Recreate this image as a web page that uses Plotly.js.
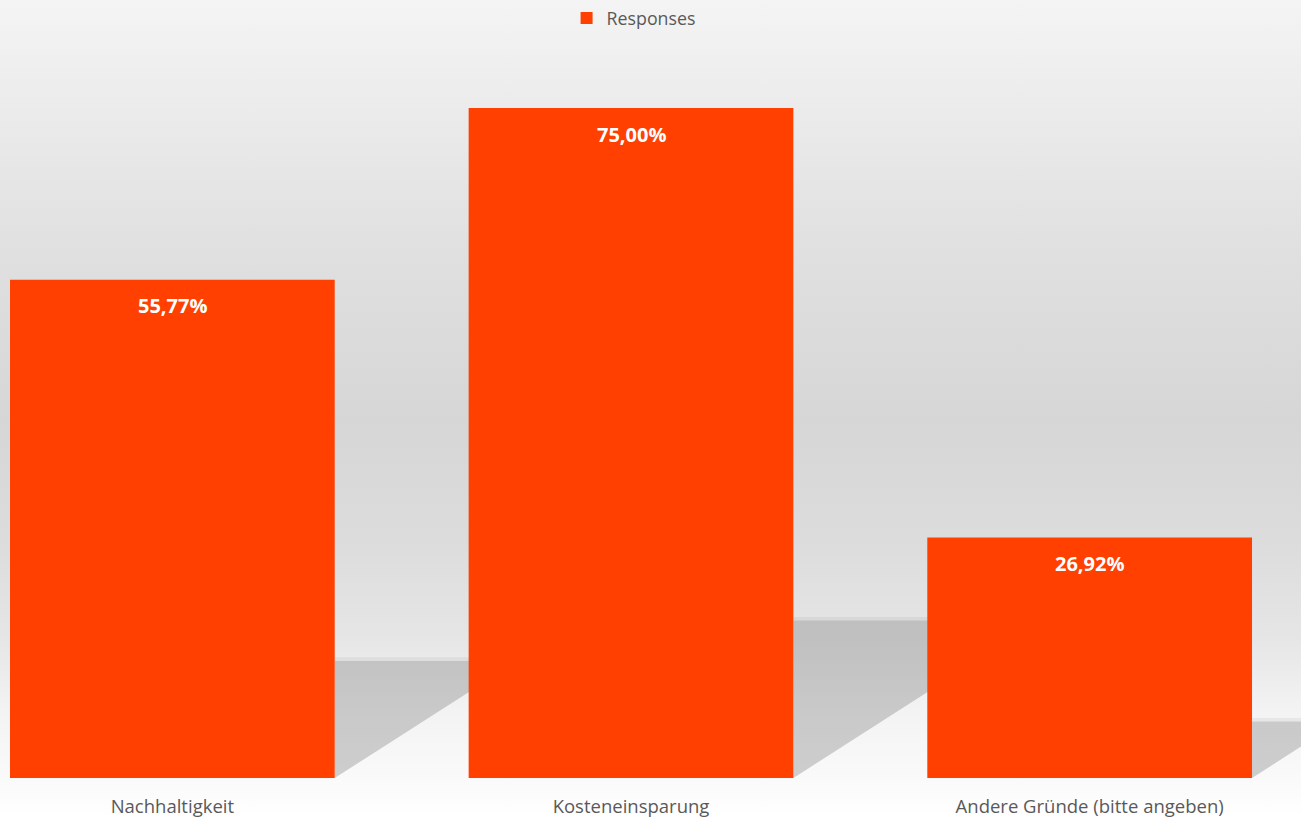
<!DOCTYPE html>
<html>
<head>
<meta charset="utf-8">
<script src="https://cdn.plot.ly/plotly-3.0.1.min.js"></script>
<style>
  html, body { margin: 0; padding: 0; }
  #chart {
    width: 1301px; height: 817px;
    background: linear-gradient(to bottom,
      #f4f4f4 0px, #ececec 100px, #e0e0e0 250px, #d6d6d6 420px,
      #dcdcdc 540px, #e6e6e6 640px, #f3f3f3 710px, #fafafa 780px, #ffffff 817px);
  }
</style>
</head>
<body>
<div id="chart"></div>
<script>
const categories = ["Nachhaltigkeit", "Kosteneinsparung", "Andere Gründe (bitte angeben)"];
const responses = [55.77, 75.00, 26.92];
const seriesName = "Responses";

const barColor = "#ff4000";
const barWidth = 0.708;
const labels = responses.map(v => v.toFixed(2).replace(".", ",") + "%");

// Floor shadows (decorative), derived from the values
const shadowRatio = 0.235;
const shadowSlope = 32.9; // data units of y per unit of x
const shapes = [];
responses.forEach((v, i) => {
  const xr = i + barWidth / 2;
  const top = v * shadowRatio;
  const xe = xr + top / shadowSlope;
  shapes.push({
    type: "path", xref: "x", yref: "y", layer: "below",
    path: `M ${xr},0 L ${xr},${top} L ${xe},${top} Z`,
    fillcolor: "rgba(120,120,120,0.34)", line: { width: 0 }
  });
  shapes.push({
    type: "path", xref: "x", yref: "y", layer: "below",
    path: `M ${xr},${top} L ${xr},${top + 0.4} L ${xe + 0.4/shadowSlope},${top + 0.4} L ${xe},${top} Z`,
    fillcolor: "rgba(120,120,120,0.10)", line: { width: 0 }
  });
});

const annotations = responses.map((v, i) => ({
  x: categories[i], y: v, xref: "x", yref: "y",
  text: "<b>" + labels[i] + "</b>", showarrow: false,
  yanchor: "middle", yshift: -26,
  font: { family: "Open Sans, sans-serif", size: 20, color: "#ffffff" }
}));

const trace = {
  type: "bar",
  x: categories,
  y: responses,
  name: seriesName,
  width: barWidth,
  marker: { color: barColor, line: { width: 0 } },
  hoverinfo: "x+y",
  showlegend: true
};

const layout = {
  width: 1301, height: 817,
  margin: { l: 0, r: 0, t: 0, b: 39, pad: 0 },
  paper_bgcolor: "rgba(0,0,0,0)",
  plot_bgcolor: "rgba(0,0,0,0)",
  font: { family: "Open Sans, sans-serif", color: "#595959" },
  showlegend: true,
  legend: {
    orientation: "h", x: 0.4355, xanchor: "left", y: 1.0, yanchor: "top",
    font: { size: 17.8, color: "#595959" }, bgcolor: "rgba(0,0,0,0)",
    itemwidth: 30
  },
  xaxis: {
    type: "category",
    range: [-0.3758, 2.4608],
    showgrid: false, zeroline: false, showline: false,
    ticks: "", tickfont: { size: 18.5, color: "#595959" },
    ticklabelstandoff: 15, fixedrange: true
  },
  yaxis: {
    range: [0, 87.09],
    showgrid: false, zeroline: false, showline: false,
    showticklabels: false, ticks: "", fixedrange: true
  },
  shapes: shapes,
  annotations: annotations
};

Plotly.newPlot("chart", [trace], layout, { displayModeBar: false, staticPlot: true });
</script>
</body>
</html>
